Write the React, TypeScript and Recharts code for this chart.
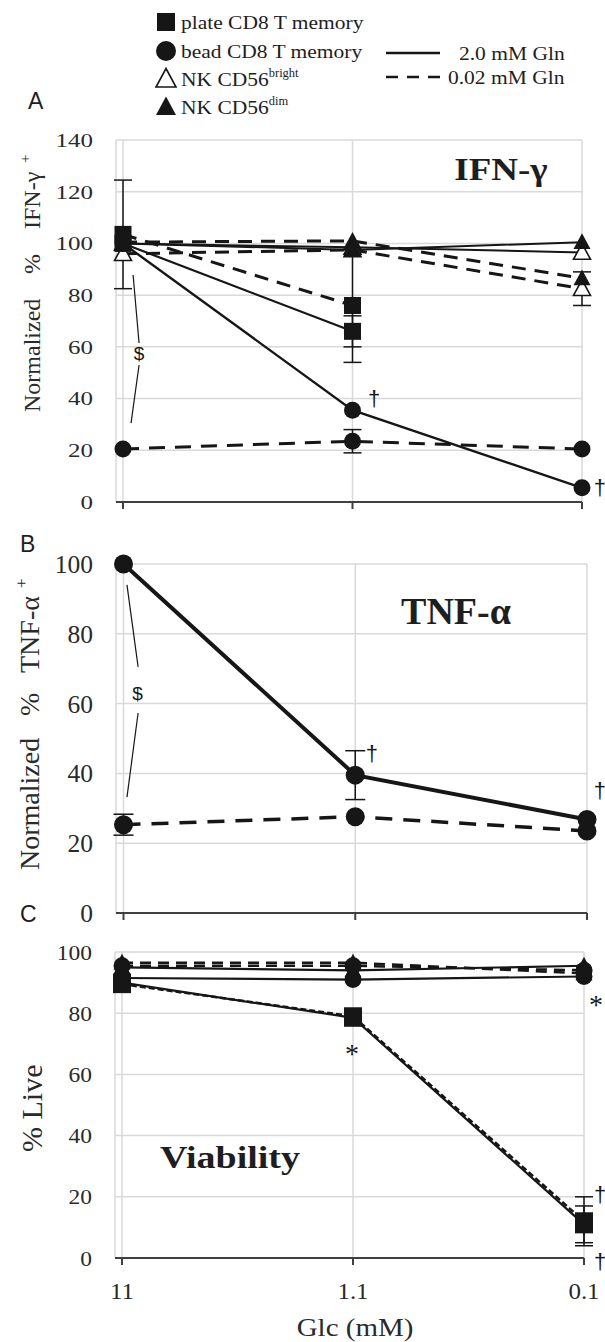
import React from 'react';
import {
  LineChart,
  Line,
  XAxis,
  YAxis,
  CartesianGrid,
  ErrorBar,
  ReferenceLine,
  ReferenceDot,
} from 'recharts';

const SERIF = '"Liberation Serif", "Times New Roman", serif';
const SANS = '"Liberation Sans", Arial, sans-serif';
const INK = '#161616';

// ---------- shared categories ----------
const glcLabels = ['11', '1.1', '0.1'];
const glcIndex = [0, 1, 2];

// ---------- Panel A : IFN-gamma ----------
const ifnPlate20 = [100, 66, null];
const ifnPlate20Err = [0, 6, 0];
const ifnPlate002 = [103.5, 76, null];
const ifnPlate002Err = [21, 22, 0];
const ifnBead20 = [100, 35.5, 5.5];
const ifnBead002 = [20.5, 23.5, 20.5];
const ifnBead002Err = [0, 4.5, 0];
const ifnBright20 = [100, 98.5, 96.5];
const ifnBright002 = [96, 97.5, 82.5];
const ifnBright002Err = [0, 0, 6.5];
const ifnDim20 = [100, 97.5, 100.5];
const ifnDim002 = [100.5, 101, 86.5];
const ifnTicks = [0, 20, 40, 60, 80, 100, 120, 140];

// ---------- Panel B : TNF-alpha ----------
const tnfBead20 = [100, 39.5, 26.8];
const tnfBead20Err = [0, 7, 0];
const tnfBead002 = [25.3, 27.6, 23.5];
const tnfBead002Err = [3, 0, 0];
const tnfTicks = [0, 20, 40, 60, 80, 100];

// ---------- Panel C : viability ----------
const livePlate20 = [90, 78.5, 11];
const livePlate20Err = [0, 0, 6];
const livePlate002 = [89.5, 79, 12];
const livePlate002Err = [0, 0, 8];
const liveBead20 = [91.5, 91, 92];
const liveBead002 = [95.5, 95.5, 94];
const liveNK20 = [95, 94, 95.5];
const liveNK002 = [96.5, 96.5, 93];
const liveTicks = [0, 20, 40, 60, 80, 100];

// ---------- annotations (data coordinates) ----------
const ifnSigns = [
  { x: 1.094, y: 40.2, t: '\u2020' },
  { x: 2.078, y: 5.8, t: '\u2020' },
  { x: 0.07, y: 57.6, t: '$' },
];
const ifnBracket = [
  [{ x: 0.044, y: 87.8 }, { x: 0.07, y: 61.5 }],
  [{ x: 0.07, y: 53 }, { x: 0.035, y: 30.5 }],
];
const tnfSigns = [
  { x: 1.072, y: 45.8, t: '\u2020' },
  { x: 2.056, y: 35.2, t: '\u2020' },
  { x: 0.061, y: 63, t: '$' },
];
const tnfBracket = [
  [{ x: 0.015, y: 94 }, { x: 0.063, y: 70.5 }],
  [{ x: 0.063, y: 57.3 }, { x: 0.015, y: 33.2 }],
];
const liveSigns = [
  { x: 0.996, y: 69.5, t: '*' },
  { x: 2.052, y: 85.5, t: '*' },
  { x: 2.07, y: 20.6, t: '\u2020' },
  { x: 2.07, y: -1.3, t: '\u2020' },
];

// ---------- table building ----------
const ifnData = glcIndex.map((x, i) => ({
  x,
  plate20: ifnPlate20[i],
  plate20Err: ifnPlate20Err[i],
  plate002: ifnPlate002[i],
  plate002Err: ifnPlate002Err[i],
  bead20: ifnBead20[i],
  bead002: ifnBead002[i],
  bead002Err: ifnBead002Err[i],
  bright20: ifnBright20[i],
  bright002: ifnBright002[i],
  bright002Err: ifnBright002Err[i],
  dim20: ifnDim20[i],
  dim002: ifnDim002[i],
}));

const tnfData = glcIndex.map((x, i) => ({
  x,
  bead20: tnfBead20[i],
  bead20Err: tnfBead20Err[i],
  bead002: tnfBead002[i],
  bead002Err: tnfBead002Err[i],
}));

const liveData = glcIndex.map((x, i) => ({
  x,
  plate20: livePlate20[i],
  plate20Err: livePlate20Err[i],
  plate002: livePlate002[i],
  plate002Err: livePlate002Err[i],
  bead20: liveBead20[i],
  bead002: liveBead002[i],
  nk20: liveNK20[i],
  nk002: liveNK002[i],
}));

// ---------- markers ----------
type Shape = 'square' | 'circle' | 'tri' | 'triOpen';

function markerEl(shape: Shape, cx: number, cy: number, size: number) {
  const h = size / 2;
  if (shape === 'square') {
    return <rect x={cx - h} y={cy - h} width={size} height={size} fill={INK} />;
  }
  if (shape === 'circle') {
    return <circle cx={cx} cy={cy} r={h} fill={INK} />;
  }
  const pts = `${cx},${cy - h * 1.05} ${cx + h},${cy + h * 0.8} ${cx - h},${cy + h * 0.8}`;
  if (shape === 'tri') {
    return <polygon points={pts} fill={INK} />;
  }
  return <polygon points={pts} fill="#ffffff" stroke={INK} strokeWidth={1.6} />;
}

const dotFn = (shape: Shape, size: number, tag: string) => (p: any) => {
  const key = `${tag}-${p.index}`;
  if (p.cx == null || p.cy == null || p.value == null || Number.isNaN(p.cy)) {
    return <g key={key} />;
  }
  return <g key={key}>{markerEl(shape, p.cx, p.cy, size)}</g>;
};

// ---------- ticks ----------
const yTick = (fs: number, sy: number) => (props: any) => {
  const { x, y, payload } = props;
  return (
    <text
      transform={`translate(${x},${y}) scale(1,${sy})`}
      textAnchor="end"
      dy="0.35em"
      fontSize={fs}
      fontFamily={SERIF}
      fill="#2a2a2a"
    >
      {payload.value}
    </text>
  );
};

const emptyTick = () => <g />;

const xTickC = (props: any) => {
  const { x, y, payload } = props;
  return (
    <text
      transform={`translate(${x},${y}) scale(1,0.95)`}
      textAnchor="middle"
      fontSize={25}
      fontFamily={SERIF}
      fill="#2a2a2a"
    >
      {glcLabels[payload.value]}
    </text>
  );
};

const signShape = (t: string) => (p: any) => {
  const isDollar = t === '$';
  const isStar = t === '*';
  return (
    <text
      x={p.cx}
      y={p.cy}
      textAnchor="middle"
      dominantBaseline="central"
      dy={isStar ? '0.3em' : 0}
      fontSize={isDollar ? 19 : isStar ? 28 : 22}
      fontFamily={isStar ? SERIF : SANS}
      fill={INK}
    >
      {t}
    </text>
  );
};

const gridProps = { stroke: '#d9d9d9', strokeWidth: 1.5 };
const axisLine = { stroke: '#404040', strokeWidth: 2 };
const tickLine = { stroke: '#404040', strokeWidth: 2 };

function PanelA() {
  return (
    <LineChart
      width={605}
      height={520}
      data={ifnData}
      margin={{ top: 140, right: 23, bottom: 8, left: 16 }}
    >
      <CartesianGrid {...gridProps} />
      <XAxis
        dataKey="x"
        type="number"
        domain={[0, 2]}
        ticks={glcIndex}
        padding={{ left: 7, right: 0 }}
        height={10}
        axisLine={axisLine}
        tickLine={tickLine}
        tickSize={7}
        tick={emptyTick}
      />
      <YAxis
        domain={[0, 140]}
        ticks={ifnTicks}
        width={100}
        axisLine={false}
        tickLine={false}
        tickSize={0}
        tickMargin={23}
        tick={yTick(25, 0.78)}
      />
      {ifnBracket.map((seg, i) => (
        <ReferenceLine key={`ab${i}`} segment={seg} stroke={INK} strokeWidth={1.2} ifOverflow="visible" />
      ))}
      <Line dataKey="bright20" stroke={INK} strokeWidth={2} dot={dotFn('triOpen', 17, 'a1')} activeDot={false} isAnimationActive={false} />
      <Line dataKey="bright002" stroke={INK} strokeWidth={3} strokeDasharray="14 9" dot={dotFn('triOpen', 17, 'a2')} activeDot={false} isAnimationActive={false}>
        <ErrorBar dataKey="bright002Err" width={9} stroke={INK} strokeWidth={1.5} direction="y" />
      </Line>
      <Line dataKey="dim20" stroke={INK} strokeWidth={2} dot={dotFn('tri', 17, 'a3')} activeDot={false} isAnimationActive={false} />
      <Line dataKey="dim002" stroke={INK} strokeWidth={3} strokeDasharray="14 9" dot={dotFn('tri', 17, 'a4')} activeDot={false} isAnimationActive={false} />
      <Line dataKey="bead002" stroke={INK} strokeWidth={3} strokeDasharray="16 10" dot={dotFn('circle', 17, 'a5')} activeDot={false} isAnimationActive={false}>
        <ErrorBar dataKey="bead002Err" width={9} stroke={INK} strokeWidth={1.5} direction="y" />
      </Line>
      <Line dataKey="bead20" stroke={INK} strokeWidth={2.4} dot={dotFn('circle', 17, 'a6')} activeDot={false} isAnimationActive={false} />
      <Line dataKey="plate002" stroke={INK} strokeWidth={3} strokeDasharray="14 9" dot={dotFn('square', 17, 'a7')} activeDot={false} isAnimationActive={false}>
        <ErrorBar dataKey="plate002Err" width={9} stroke={INK} strokeWidth={1.5} direction="y" />
      </Line>
      <Line dataKey="plate20" stroke={INK} strokeWidth={2.2} dot={dotFn('square', 17, 'a8')} activeDot={false} isAnimationActive={false}>
        <ErrorBar dataKey="plate20Err" width={9} stroke={INK} strokeWidth={1.5} direction="y" />
      </Line>
      {ifnSigns.map((s, i) => (
        <ReferenceDot key={`as${i}`} x={s.x} y={s.y} r={1} ifOverflow="visible" shape={signShape(s.t)} />
      ))}
    </LineChart>
  );
}

function PanelB() {
  return (
    <LineChart
      width={605}
      height={420}
      data={tnfData}
      margin={{ top: 44, right: 18, bottom: 17, left: 16 }}
    >
      <CartesianGrid {...gridProps} />
      <XAxis
        dataKey="x"
        type="number"
        domain={[0, 2]}
        ticks={glcIndex}
        padding={{ left: 7.5, right: 0 }}
        height={10}
        axisLine={axisLine}
        tickLine={tickLine}
        tickSize={7}
        tick={emptyTick}
      />
      <YAxis
        domain={[0, 100]}
        ticks={tnfTicks}
        width={100}
        axisLine={false}
        tickLine={false}
        tickSize={0}
        tickMargin={23}
        tick={yTick(25.5, 1)}
      />
      {tnfBracket.map((seg, i) => (
        <ReferenceLine key={`bb${i}`} segment={seg} stroke={INK} strokeWidth={1.2} ifOverflow="visible" />
      ))}
      <Line dataKey="bead002" stroke={INK} strokeWidth={3.5} strokeDasharray="17 11" dot={dotFn('circle', 19, 'b1')} activeDot={false} isAnimationActive={false}>
        <ErrorBar dataKey="bead002Err" width={10} stroke={INK} strokeWidth={1.5} direction="y" />
      </Line>
      <Line dataKey="bead20" stroke={INK} strokeWidth={4} dot={dotFn('circle', 19, 'b2')} activeDot={false} isAnimationActive={false}>
        <ErrorBar dataKey="bead20Err" width={10} stroke={INK} strokeWidth={1.5} direction="y" />
      </Line>
      {tnfSigns.map((s, i) => (
        <ReferenceDot key={`bs${i}`} x={s.x} y={s.y} r={1} ifOverflow="visible" shape={signShape(s.t)} />
      ))}
    </LineChart>
  );
}

function PanelC() {
  return (
    <LineChart
      width={605}
      height={412}
      data={liveData}
      margin={{ top: 22, right: 21, bottom: 24, left: 15 }}
    >
      <CartesianGrid {...gridProps} />
      <XAxis
        dataKey="x"
        type="number"
        domain={[0, 2]}
        ticks={glcIndex}
        padding={{ left: 7, right: 0 }}
        height={60}
        axisLine={axisLine}
        tickLine={tickLine}
        tickSize={7}
        tickMargin={34}
        tick={xTickC}
      />
      <YAxis
        domain={[0, 100]}
        ticks={liveTicks}
        width={100}
        axisLine={false}
        tickLine={false}
        tickSize={0}
        tickMargin={23}
        tick={yTick(23.5, 0.92)}
      />
      <Line dataKey="bead20" stroke={INK} strokeWidth={2.2} dot={dotFn('circle', 17, 'c1')} activeDot={false} isAnimationActive={false} />
      <Line dataKey="bead002" stroke={INK} strokeWidth={2.5} strokeDasharray="11 7" dot={dotFn('circle', 17, 'c2')} activeDot={false} isAnimationActive={false} />
      <Line dataKey="nk20" stroke={INK} strokeWidth={2.2} dot={dotFn('tri', 17, 'c3')} activeDot={false} isAnimationActive={false} />
      <Line dataKey="nk002" stroke={INK} strokeWidth={2.5} strokeDasharray="11 7" dot={dotFn('tri', 17, 'c4')} activeDot={false} isAnimationActive={false} />
      <Line dataKey="plate002" stroke={INK} strokeWidth={2.5} strokeDasharray="6 3" dot={dotFn('square', 18, 'c5')} activeDot={false} isAnimationActive={false}>
        <ErrorBar dataKey="plate002Err" width={9} stroke={INK} strokeWidth={1.5} direction="y" />
      </Line>
      <Line dataKey="plate20" stroke={INK} strokeWidth={2.2} dot={dotFn('square', 18, 'c6')} activeDot={false} isAnimationActive={false}>
        <ErrorBar dataKey="plate20Err" width={9} stroke={INK} strokeWidth={1.5} direction="y" />
      </Line>
      {liveSigns.map((s, i) => (
        <ReferenceDot key={`cs${i}`} x={s.x} y={s.y} r={1} ifOverflow="visible" shape={signShape(s.t)} />
      ))}
    </LineChart>
  );
}

function Overlay() {
  const legendRows: { shape: Shape; y: number; label: string; sup?: string }[] = [
    { shape: 'square', y: 22, label: 'plate CD8 T memory' },
    { shape: 'circle', y: 51, label: 'bead CD8 T memory' },
    { shape: 'triOpen', y: 79, label: 'NK CD56', sup: 'bright' },
    { shape: 'tri', y: 107, label: 'NK CD56', sup: 'dim' },
  ];
  return (
    <svg
      width={605}
      height={1342}
      style={{ position: 'absolute', left: 0, top: 0, pointerEvents: 'none' }}
    >
      {/* legend */}
      {legendRows.map((r) => (
        <g key={r.label + r.y}>
          {markerEl(r.shape, 166, r.y, r.shape === 'square' ? 18 : 20)}
          <text
            transform={`translate(181,${r.y}) scale(1,0.92)`}
            dy="0.33em"
            fontSize={21.5}
            fontFamily={SERIF}
            fill="#1e1e1e"
          >
            {r.label}
            {r.sup ? (
              <tspan fontSize={12.5} dy="-0.75em">
                {r.sup}
              </tspan>
            ) : null}
          </text>
        </g>
      ))}
      <line x1={386} x2={440} y1={53} y2={53} stroke={INK} strokeWidth={2.5} />
      <line x1={386} x2={440} y1={77} y2={77} stroke={INK} strokeWidth={2.5} strokeDasharray="12 9" />
      <text transform="translate(459,53) scale(1,0.92)" dy="0.33em" fontSize={21.5} fontFamily={SERIF} fill="#1e1e1e">
        2.0 mM Gln
      </text>
      <text transform="translate(448,77) scale(1,0.92)" dy="0.33em" fontSize={21.5} fontFamily={SERIF} fill="#1e1e1e">
        0.02 mM Gln
      </text>

      {/* panel letters */}
      <text x={28} y={101} dy="0.36em" fontSize={23} fontFamily={SANS} fill="#1e1e1e">A</text>
      <text x={20} y={544} dy="0.36em" fontSize={23} fontFamily={SANS} fill="#1e1e1e">B</text>
      <text x={20} y={914} dy="0.36em" fontSize={23} fontFamily={SANS} fill="#1e1e1e">C</text>

      {/* panel titles */}
      <text transform="translate(501,180) scale(1,0.88)" textAnchor="middle" fontSize={37} fontWeight="bold" fontFamily={SERIF} fill="#1e1e1e">
        IFN-γ
      </text>
      <text transform="translate(456,624) scale(1,1)" textAnchor="middle" fontSize={38} fontWeight="bold" fontFamily={SERIF} fill="#1e1e1e">
        TNF-α
      </text>
      <text transform="translate(230,1168) scale(1,0.82)" textAnchor="middle" fontSize={38} fontWeight="bold" fontFamily={SERIF} fill="#1e1e1e">
        Viability
      </text>

      {/* y-axis titles */}
      <text transform="translate(40,412) rotate(-90)" fontSize={24} fontFamily={SERIF} fill="#2a2a2a">
        <tspan x={0}>Normalized</tspan>
        <tspan x={138}>%</tspan>
        <tspan x={183}>IFN-γ</tspan>
        <tspan x={249} dy={-10} fontSize={15}>+</tspan>
      </text>
      <text transform="translate(39,870) rotate(-90)" fontSize={28} fontFamily={SERIF} fill="#2a2a2a">
        <tspan x={0}>Normalized</tspan>
        <tspan x={154}>%</tspan>
        <tspan x={197}>TNF-α</tspan>
        <tspan x={282} dy={-12} fontSize={17}>+</tspan>
      </text>
      <text transform="translate(42,1152) rotate(-90)" fontSize={30} fontFamily={SERIF} fill="#2a2a2a">
        % Live
      </text>

      {/* x-axis title */}
      <text transform="translate(355,1336) scale(1,0.88)" textAnchor="middle" fontSize={29} fontFamily={SERIF} fill="#2a2a2a">
        Glc (mM)
      </text>
    </svg>
  );
}

export default function App() {
  return (
    <div
      style={{
        position: 'absolute',
        left: 0,
        top: 0,
        width: 605,
        height: 1342,
        background: '#ffffff',
        overflow: 'hidden',
      }}
    >
      <div style={{ position: 'absolute', left: 0, top: 0 }}>
        <PanelA />
      </div>
      <div style={{ position: 'absolute', left: 0, top: 520 }}>
        <PanelB />
      </div>
      <div style={{ position: 'absolute', left: 0, top: 930 }}>
        <PanelC />
      </div>
      <Overlay />
    </div>
  );
}
